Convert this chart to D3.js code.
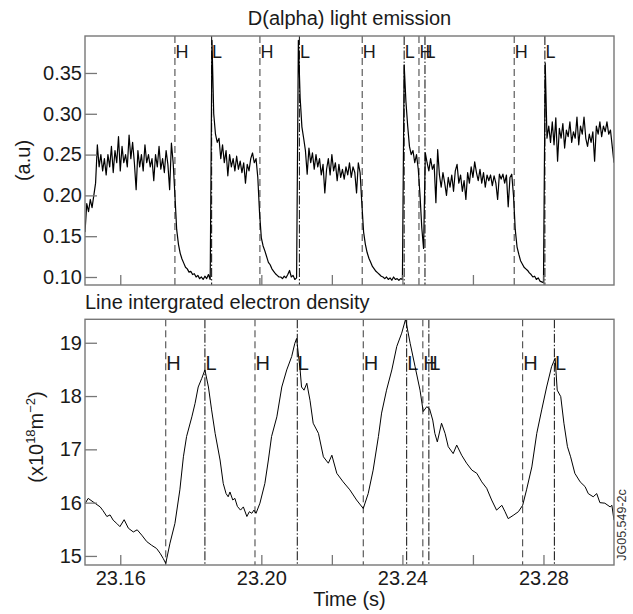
<!DOCTYPE html>
<html>
<head>
<meta charset="utf-8">
<script src="https://cdnjs.cloudflare.com/ajax/libs/d3/7.8.5/d3.min.js"></script>
<style>
  body { margin: 0; background: #fff; }
  svg { display: block; font-family: 'Liberation Sans', Arial, Helvetica, sans-serif; }
</style>
</head>
<body>
<svg id="chart" width="633" height="614"></svg>
<script>
// ticks on the time axis (23.18 has no tick in the original)
const timeTicks = [23.16, 23.20, 23.22, 23.24, 23.26, 23.28]
// ticks that carry a label
const timeLabels = [23.16, 23.20, 23.24, 23.28]
// y ticks of both panels
const dAlphaTicks = [0.10, 0.15, 0.20, 0.25, 0.30, 0.35]
const densityTicks = [15, 16, 17, 18, 19]

// D(alpha) signal, one sample every 0.5 ms from 23.150 s
const dAlphaStart = 23.150
const dAlphaStep = 0.0005
const dAlphaValues = [
  0.155, 0.19, 0.18, 0.195, 0.185, 0.20, 0.215, 0.262, 0.235, 0.25,
  0.23, 0.245, 0.225, 0.25, 0.235, 0.26, 0.228, 0.255, 0.24, 0.272,
  0.23, 0.26, 0.24, 0.25, 0.235, 0.274, 0.245, 0.265, 0.24, 0.207,
  0.255, 0.235, 0.25, 0.23, 0.262, 0.24, 0.25, 0.235, 0.245, 0.218,
  0.25, 0.235, 0.26, 0.232, 0.245, 0.228, 0.255, 0.238, 0.207, 0.264,
  0.24, 0.2, 0.158, 0.14, 0.129, 0.122, 0.117, 0.112, 0.11, 0.106,
  0.107, 0.103, 0.104, 0.1, 0.102, 0.098, 0.1, 0.097, 0.101, 0.098,
  0.103, 0.097, 0.39, 0.3, 0.275, 0.265, 0.27, 0.245, 0.262, 0.24,
  0.255, 0.224, 0.25, 0.235, 0.245, 0.23, 0.248, 0.232, 0.242, 0.228,
  0.24, 0.215, 0.238, 0.23, 0.245, 0.252, 0.24, 0.245, 0.222, 0.178,
  0.148, 0.138, 0.132, 0.125, 0.118, 0.115, 0.11, 0.107, 0.104, 0.102,
  0.1, 0.1, 0.098, 0.101, 0.099, 0.103, 0.108, 0.1, 0.102, 0.097,
  0.099, 0.39, 0.32, 0.284, 0.27, 0.255, 0.226, 0.258, 0.24, 0.252,
  0.232, 0.25, 0.235, 0.245, 0.225, 0.238, 0.203, 0.232, 0.245, 0.225,
  0.25, 0.23, 0.24, 0.218, 0.238, 0.222, 0.232, 0.22, 0.235, 0.225,
  0.24, 0.222, 0.235, 0.228, 0.203, 0.24, 0.228, 0.19, 0.155, 0.14,
  0.13, 0.123, 0.118, 0.113, 0.11, 0.107, 0.105, 0.103, 0.101, 0.1,
  0.098, 0.1, 0.097, 0.099, 0.096, 0.1, 0.097, 0.098, 0.096, 0.098,
  0.097, 0.36, 0.315, 0.285, 0.26, 0.25, 0.255, 0.24, 0.25, 0.232,
  0.2, 0.16, 0.135, 0.252, 0.24, 0.23, 0.245, 0.232, 0.238, 0.191,
  0.256, 0.225, 0.21, 0.228, 0.215, 0.2, 0.222, 0.21, 0.225, 0.205,
  0.23, 0.238, 0.215, 0.225, 0.205, 0.218, 0.195, 0.228, 0.215, 0.235,
  0.222, 0.241, 0.228, 0.218, 0.232, 0.215, 0.228, 0.21, 0.225, 0.218,
  0.225, 0.212, 0.224, 0.215, 0.195, 0.226, 0.22, 0.226, 0.215, 0.225,
  0.186, 0.222, 0.226, 0.2, 0.158, 0.137, 0.128, 0.12, 0.116, 0.112,
  0.11, 0.108, 0.105, 0.103, 0.1, 0.101, 0.097, 0.099, 0.095, 0.094,
  0.093, 0.362, 0.27, 0.285, 0.265, 0.29, 0.262, 0.295, 0.242, 0.282,
  0.27, 0.288, 0.258, 0.28, 0.272, 0.29, 0.265, 0.278, 0.27, 0.296,
  0.262, 0.285, 0.275, 0.296, 0.27, 0.26, 0.275, 0.265, 0.278, 0.242,
  0.285, 0.275, 0.29, 0.272, 0.285, 0.278, 0.29, 0.275, 0.28, 0.26,
  0.24
]

// line integrated electron density (x10^18 m^-2)
const densityTimes = [
  23.1500, 23.1509, 23.1528, 23.1543, 23.1551, 23.1562, 23.1571, 23.1580, 23.1590, 23.1599,
  23.1611, 23.1623, 23.1637, 23.1648, 23.1661, 23.1675, 23.1689, 23.1703, 23.1713, 23.1722,
  23.1729, 23.1741, 23.1755, 23.1769, 23.1779, 23.1788, 23.1803, 23.1812, 23.1821, 23.1831,
  23.1840, 23.1850, 23.1859, 23.1869, 23.1883, 23.1892, 23.1900, 23.1906, 23.1911, 23.1919,
  23.1925, 23.1932, 23.1941, 23.1949, 23.1959, 23.1966, 23.1973, 23.1979, 23.1985, 23.1996,
  23.2010, 23.2020, 23.2029, 23.2044, 23.2058, 23.2072, 23.2086, 23.2095, 23.2100, 23.2110,
  23.2114, 23.2121, 23.2129, 23.2138, 23.2147, 23.2162, 23.2176, 23.2190, 23.2200, 23.2214,
  23.2232, 23.2251, 23.2270, 23.2289, 23.2303, 23.2317, 23.2332, 23.2341, 23.2355, 23.2370,
  23.2384, 23.2398, 23.2409, 23.2422, 23.2436, 23.2450, 23.2459, 23.2469, 23.2477, 23.2486,
  23.2492, 23.2499, 23.2511, 23.2521, 23.2530, 23.2544, 23.2554, 23.2568, 23.2582, 23.2597,
  23.2611, 23.2625, 23.2639, 23.2653, 23.2667, 23.2682, 23.2691, 23.2700, 23.2714, 23.2729,
  23.2741, 23.2752, 23.2767, 23.2781, 23.2795, 23.2809, 23.2823, 23.2833, 23.2839, 23.2849,
  23.2858, 23.2868, 23.2877, 23.2889, 23.2904, 23.2918, 23.2927, 23.2941, 23.2951, 23.2960,
  23.2974, 23.2989, 23.2994, 23.3000
]
const densityValues = [
  15.98, 16.08, 15.99, 15.92, 15.85, 15.74, 15.77, 15.67, 15.61, 15.55,
  15.68, 15.52, 15.45, 15.49, 15.39, 15.27, 15.20, 15.14, 15.05, 14.95,
  14.86, 15.24, 15.61, 16.24, 16.86, 17.24, 17.61, 17.86, 18.17, 18.33,
  18.49, 18.17, 17.74, 17.30, 16.80, 16.36, 16.17, 16.11, 16.20, 16.05,
  16.08, 15.93, 15.86, 15.92, 15.74, 15.83, 15.80, 15.86, 15.80, 15.99,
  16.36, 16.80, 17.24, 17.61, 18.17, 18.49, 18.74, 18.99, 19.08, 18.49,
  18.17, 18.11, 18.24, 17.92, 17.49, 17.30, 16.86, 16.74, 16.89, 16.55,
  16.39, 16.24, 16.05, 15.89, 16.17, 16.61, 17.24, 17.68, 18.11, 18.49,
  18.93, 19.18, 19.44, 18.99, 18.55, 18.11, 17.71, 17.80, 17.76, 17.55,
  17.30, 17.14, 17.49, 17.30, 17.05, 16.92, 17.08, 16.89, 16.74, 16.61,
  16.55, 16.39, 16.27, 16.05, 15.86, 15.95, 15.83, 15.70, 15.76, 15.83,
  15.95, 16.24, 16.67, 17.30, 17.74, 18.17, 18.55, 18.71, 18.11, 17.99,
  17.49, 17.05, 16.86, 16.55, 16.39, 16.30, 16.17, 16.11, 16.17, 16.00,
  15.99, 15.92, 15.95, 15.67
]

// H-mode (dashed) and L-mode (dash-dot) transition times in each panel
const hTimesTop = [23.1755, 23.1996, 23.2286, 23.2447, 23.2717]
const lTimesTop = [23.1859, 23.2108, 23.2405, 23.2464, 23.2804]
const hTimesBottom = [23.1729, 23.1982, 23.2289, 23.2458, 23.2741]
const lTimesBottom = [23.1840, 23.2102, 23.2412, 23.2475, 23.2831]

function makeChart() {
  const svg = d3.select('#chart')
  const left = 85
  const right = 614
  const frameColor = '#777'
  const textColor = '#1a1a1a'

  // shared time scale
  const x = d3.scaleLinear().domain([23.15, 23.30]).range([left, right])

  const dAlphaPoints = dAlphaValues.map((v, i) => ({t: dAlphaStart + i * dAlphaStep, v}))
  const densityPoints = densityValues.map((v, i) => ({t: densityTimes[i], v}))

  const panels = [
    {
      id: 'dalpha', top: 36, bottom: 285, domain: [0.0902, 0.3953],
      ticks: dAlphaTicks, format: d3.format('.2f'), points: dAlphaPoints,
      hTimes: hTimesTop, lTimes: lTimesTop, labelY: 58, labelSize: 18,
      lineWidth: 1.2, showTimeLabels: false
    },
    {
      id: 'density', top: 319.3, bottom: 565, domain: [14.83, 19.44],
      ticks: densityTicks, format: d3.format('d'), points: densityPoints,
      hTimes: hTimesBottom, lTimes: lTimesBottom, labelY: 370, labelSize: 20,
      lineWidth: 1, showTimeLabels: true
    }
  ]

  panels.forEach(p => {
    const y = d3.scaleLinear().domain(p.domain).range([p.bottom, p.top])
    const g = svg.append('g').attr('id', p.id)

    // clip so the signal stays inside the frame
    g.append('clipPath').attr('id', 'clip-' + p.id)
      .append('rect')
      .attr('x', left).attr('y', p.top)
      .attr('width', right - left).attr('height', p.bottom - p.top)

    // H transitions: dashed lines
    g.selectAll('line.h').data(p.hTimes).enter().append('line')
      .attr('class', 'h')
      .attr('x1', d => x(d)).attr('x2', d => x(d))
      .attr('y1', p.top).attr('y2', p.bottom)
      .attr('stroke', '#3a3a3a').attr('stroke-width', 1)
      .attr('stroke-dasharray', '7,4')
    // L transitions: dash-dot lines
    g.selectAll('line.l').data(p.lTimes).enter().append('line')
      .attr('class', 'l')
      .attr('x1', d => x(d)).attr('x2', d => x(d))
      .attr('y1', p.top).attr('y2', p.bottom)
      .attr('stroke', '#222').attr('stroke-width', 1.1)
      .attr('stroke-dasharray', '9,2,1.5,2')

    // H / L letters next to the lines
    const marks = p.hTimes.map(t => ({t, s: 'H'})).concat(p.lTimes.map(t => ({t, s: 'L'})))
    g.selectAll('text.mark').data(marks).enter().append('text')
      .attr('class', 'mark')
      .attr('x', d => x(d.t) + 0.5)
      .attr('y', p.labelY)
      .attr('font-size', p.labelSize)
      .attr('fill', textColor)
      .text(d => d.s)

    // signal
    const line = d3.line().x(d => x(d.t)).y(d => y(d.v))
    g.append('path').datum(p.points)
      .attr('d', line)
      .attr('fill', 'none')
      .attr('stroke', '#000')
      .attr('stroke-width', p.lineWidth)
      .attr('stroke-linejoin', 'round')
      .attr('clip-path', 'url(#clip-' + p.id + ')')

    // y axis, ticks pointing inwards
    const axisY = d3.axisLeft(y).tickValues(p.ticks).tickFormat(p.format)
      .tickSizeInner(-12).tickSizeOuter(0).tickPadding(3)
    const gy = g.append('g').attr('transform', `translate(${left},0)`).call(axisY)
    // x axis, ticks pointing inwards
    const axisX = d3.axisBottom(x).tickValues(timeTicks)
      .tickFormat(d => p.showTimeLabels && timeLabels.includes(d) ? d3.format('.2f')(d) : '')
      .tickSizeInner(-10).tickSizeOuter(0).tickPadding(6)
    const gx = g.append('g').attr('transform', `translate(0,${p.bottom})`).call(axisX)

    ;[gx, gy].forEach(a => {
      a.select('.domain').remove()
      a.selectAll('.tick line').attr('stroke', frameColor).attr('stroke-width', 1.3)
      a.selectAll('.tick text').attr('font-size', 20).attr('fill', textColor)
        .attr('font-family', "'Liberation Sans', Arial, sans-serif")
    })

    // frame
    g.append('rect')
      .attr('x', left).attr('y', p.top)
      .attr('width', right - left).attr('height', p.bottom - p.top)
      .attr('fill', 'none').attr('stroke', frameColor).attr('stroke-width', 1.4)
  })

  // titles
  svg.append('text').attr('x', (left + right) / 2).attr('y', 25)
    .attr('text-anchor', 'middle').attr('font-size', 20).attr('fill', textColor)
    .text('D(alpha) light emission')
  svg.append('text').attr('x', left).attr('y', 309)
    .attr('font-size', 20).attr('fill', textColor)
    .text('Line intergrated electron density')

  // y labels
  svg.append('text').attr('transform', 'translate(30,160.5) rotate(-90)')
    .attr('text-anchor', 'middle').attr('font-size', 20).attr('fill', textColor)
    .text('(a.u)')
  const unit = svg.append('text').attr('transform', 'translate(43,437) rotate(-90)')
    .attr('text-anchor', 'middle').attr('font-size', 20).attr('fill', textColor)
  unit.append('tspan').text('(x10')
  unit.append('tspan').attr('font-size', 13).attr('dy', -8).text('18')
  unit.append('tspan').attr('dy', 8).text('m')
  unit.append('tspan').attr('font-size', 13).attr('dy', -8).text('\u22122')
  unit.append('tspan').attr('dy', 8).text(')')

  // x label
  svg.append('text').attr('x', (left + right) / 2).attr('y', 606)
    .attr('text-anchor', 'middle').attr('font-size', 20).attr('fill', textColor)
    .text('Time (s)')

  // figure id on the right edge
  svg.append('text').attr('transform', 'translate(626,525) rotate(-90)')
    .attr('text-anchor', 'middle').attr('font-size', 12.5).attr('fill', '#333')
    .text('JG05.549-2c')
}

window.onload = makeChart
</script>
</body>
</html>
